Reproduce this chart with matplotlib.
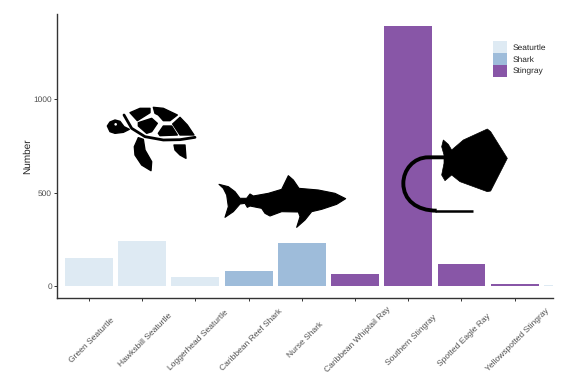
import matplotlib
matplotlib.use("Agg")
from matplotlib import pyplot as plt
from matplotlib.patches import Patch, PathPatch, Polygon, Ellipse
from matplotlib.path import Path
from matplotlib.transforms import ScaledTranslation

plt.rcParams["font.family"] = ["Liberation Sans", "DejaVu Sans"]
plt.rcParams["text.hinting"] = "none"

# chart data (last bar is cut off by the axis, no label visible)
species = ["Green Seaturtle", "Hawksbill Seaturtle", "Loggerhead Seaturtle",
           "Caribbean Reef Shark", "Nurse Shark", "Caribbean Whiptail Ray",
           "Southern Stingray", "Spotted Eagle Ray", "Yellowspotted Stingray", ""]
groups = ["Seaturtle", "Seaturtle", "Seaturtle", "Shark", "Shark",
          "Stingray", "Stingray", "Stingray", "Stingray", "Seaturtle"]
counts = [150, 241, 45, 80, 228, 62, 1394, 115, 8, 5]
yticks = [0, 500, 1000]
group_names = ["Seaturtle", "Shark", "Stingray"]
group_colors = ["#DEEAF3", "#9EBCDA", "#8856A7"]

W, H = 569, 373
LEFT, RIGHT, TOP, BOTTOM = 57, 553, 14, 298

TURTLE_ORIGIN = (100, 100)
turtle_parts = [
    [(22, 78), (30, 66), (45, 60), (60, 64), (72, 80), (88, 88), (70, 97), (45, 100), (30, 95)],
    [(90, 38), (120, 25), (150, 25), (150, 38), (112, 62)],
    [(160, 22), (190, 25), (232, 45), (210, 62), (190, 62), (175, 45), (165, 40)],
    [(240, 52), (262, 75), (282, 105), (240, 105), (218, 72)],
    [(115, 68), (155, 55), (172, 70), (155, 95), (140, 100), (115, 78)],
    [(175, 100), (190, 78), (215, 78), (232, 105), (180, 107)],
    [(115, 113), (130, 118), (135, 150), (155, 185), (153, 212), (125, 195), (105, 165), (103, 140)],
    [(222, 135), (255, 135), (258, 175), (240, 165), (225, 150)],
]
turtle_band = [(72, 45), (95, 85), (135, 110), (190, 120), (240, 119), (285, 112)]

SHARK_ORIGIN = (215, 170)
shark_outline = [(12, 43), (40, 50), (60, 65), (75, 85), (95, 85), (105, 72), (115, 78),
                 (160, 70), (200, 58), (220, 17), (235, 30), (252, 55), (310, 60), (360, 70),
                 (392, 86), (365, 103), (320, 118), (290, 125), (270, 150), (245, 172),
                 (255, 140), (250, 126), (200, 125), (165, 138), (150, 130), (140, 115),
                 (105, 108), (97, 112), (90, 100), (75, 102), (55, 125), (30, 142), (40, 110),
                 (35, 75), (25, 55)]

RAY_ORIGIN = (400, 125)
ray_outline = [(262, 12), (272, 20), (322, 100), (272, 198), (262, 200), (180, 170), (155, 150),
               (135, 167), (125, 150), (132, 115), (132, 90), (125, 65), (130, 45), (145, 58),
               (155, 75), (190, 45)]


def to_px(points, origin):
    return [(origin[0] + x / 3, origin[1] + y / 3) for x, y in points]


def draw_icons(fig):
    # overlay axes in picture pixels so the icons sit on top of the bars
    ov = fig.add_axes([0, 0, 1, 1], facecolor="none")
    ov.set_xlim(0, W)
    ov.set_ylim(H, 0)
    ov.axis("off")

    for part in turtle_parts:
        ov.add_patch(Polygon(to_px(part, TURTLE_ORIGIN), fc="black", ec="black", lw=1.0, joinstyle="round"))
    ov.plot(*zip(*to_px(turtle_band, TURTLE_ORIGIN)), color="black", lw=2.0, solid_capstyle="round")
    ex, ey = to_px([(47, 73)], TURTLE_ORIGIN)[0]
    ov.add_patch(Ellipse((ex, ey), 2.6, 2.6, fc="white", ec="none"))

    ov.add_patch(Polygon(to_px(shark_outline, SHARK_ORIGIN), fc="black", ec="black", lw=0.8, joinstyle="round"))

    ov.add_patch(Polygon(to_px(ray_outline, RAY_ORIGIN), fc="black", ec="black", lw=0.5, joinstyle="round"))
    tail = to_px([(135, 97), (85, 97), (40, 97), (10, 135), (10, 175),
                  (10, 225), (50, 257), (110, 257)], RAY_ORIGIN)
    codes = [Path.MOVETO, Path.LINETO, Path.CURVE4, Path.CURVE4, Path.CURVE4,
             Path.CURVE4, Path.CURVE4, Path.CURVE4]
    ov.add_patch(PathPatch(Path(tail, codes), fc="none", ec="black", lw=2.8, capstyle="butt"))
    ov.plot(*zip(*to_px([(105, 257), (218, 257)], RAY_ORIGIN)), color="black", lw=1.8, solid_capstyle="butt")


def main():
    fig = plt.figure(figsize=(W / 100, H / 100), dpi=100)
    ax = fig.add_axes([LEFT / W, 1 - BOTTOM / H, (RIGHT - LEFT) / W, (BOTTOM - TOP) / H])

    color_of = dict(zip(group_names, group_colors))
    xs = list(range(len(species)))
    ax.bar(xs, counts, width=0.9, color=[color_of[g] for g in groups])

    ax.set_yticks(yticks)
    ax.set_xticks(xs)
    ax.set_xticklabels(species)
    # limits after the ticks, set_xticks widens them otherwise
    ax.set_xlim(-0.6, 8.72)
    ax.set_ylim(-66, 1459)
    ax.set_ylabel("Number", fontsize=7.2, color="#222222", labelpad=0.5)

    for side in ["top", "right"]:
        ax.spines[side].set_visible(False)
    for side in ["left", "bottom"]:
        ax.spines[side].set_color("#333333")
        ax.spines[side].set_linewidth(1.0)

    ax.tick_params(axis="y", length=2.2, width=0.7, color="#333333", labelsize=6, labelcolor="#4D4D4D", pad=1.5)
    ax.tick_params(axis="x", length=2.2, width=0.7, color="#333333", labelsize=6.1, labelcolor="#4D4D4D", pad=28)
    shift = ScaledTranslation(3 / 100, 0, fig.dpi_scale_trans)
    for label in ax.get_xticklabels():
        label.set_rotation(45)
        label.set_ha("center")
        label.set_va("center")
        label.set_transform(label.get_transform() + shift)

    handles = [Patch(fc=c, ec="none", label=n) for n, c in zip(group_names, group_colors)]
    leg = fig.legend(handles=handles, loc="upper left", bbox_to_anchor=(493 / W, 1 - 41 / H),
                     frameon=False, fontsize=6.0, borderpad=0, borderaxespad=0, labelspacing=0,
                     handlelength=1.7, handleheight=1.85, handletextpad=0.6)
    for text in leg.get_texts():
        text.set_color("#222222")

    draw_icons(fig)
    fig.savefig("out.png", dpi=100)


if __name__ == "__main__":
    main()
